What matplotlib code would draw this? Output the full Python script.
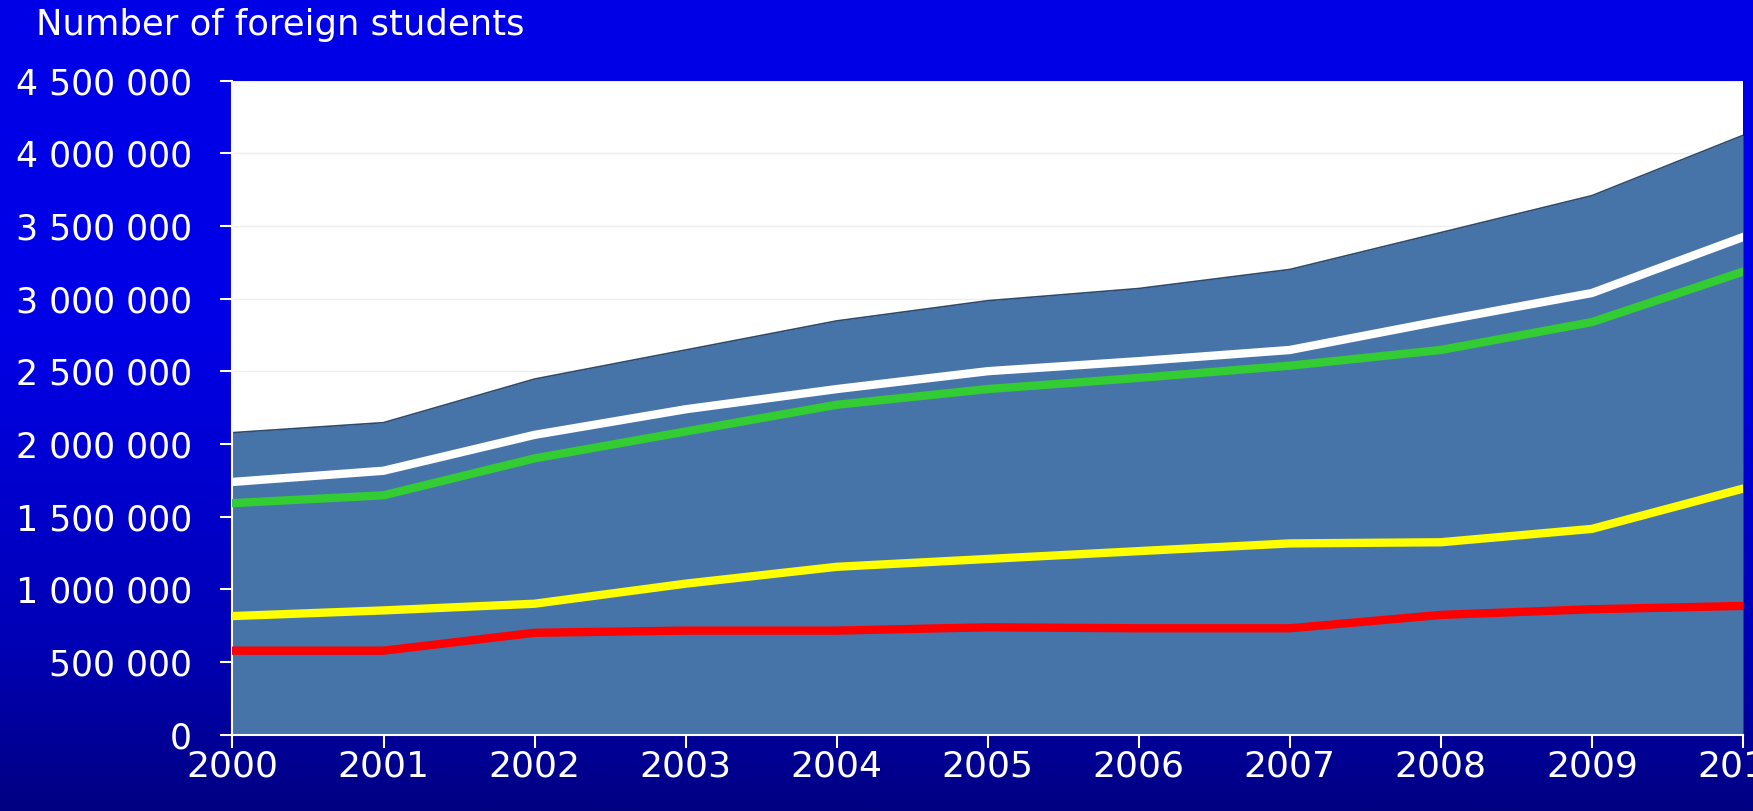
import numpy as np
import matplotlib.pyplot as plt

# Data (number of foreign students)
years = [2000, 2001, 2002, 2003, 2004, 2005, 2006, 2007, 2008, 2009, 2010]
total = [2077000, 2146000, 2446000, 2646000, 2846000, 2985000, 3069000, 3200000, 3454000, 3708000, 4123000]
white_series = [1738000, 1815000, 2062000, 2238000, 2377000, 2500000, 2569000, 2646000, 2846000, 3038000, 3423000]
green_series = [1592000, 1646000, 1900000, 2085000, 2269000, 2377000, 2454000, 2538000, 2646000, 2838000, 3185000]
yellow_series = [815000, 854000, 900000, 1038000, 1154000, 1208000, 1262000, 1315000, 1323000, 1415000, 1692000]
red_series = [577000, 577000, 700000, 715000, 715000, 738000, 731000, 731000, 823000, 862000, 885000]

y_ticks = [0, 500000, 1000000, 1500000, 2000000, 2500000, 3000000, 3500000, 4000000, 4500000]
y_labels = ['0', '500 000', '1 000 000', '1 500 000', '2 000 000', '2 500 000',
            '3 000 000', '3 500 000', '4 000 000', '4 500 000']

plt.rcParams['font.family'] = ['DejaVu Sans']

fig = plt.figure(figsize=(17.53, 8.11), dpi=100)

# blue gradient background
bg = fig.add_axes([0, 0, 1, 1], zorder=-10)
rows = np.linspace(0, 1, 400)
blue = np.interp(rows, [0, 0.4, 0.8, 1.0], [230, 232, 180, 130]) / 255
grad = np.zeros((400, 2, 3))
grad[:, :, 2] = blue[:, None]
bg.imshow(grad, aspect='auto', extent=[0, 1, 1, 0])
bg.set_axis_off()

ax = fig.add_axes([0.1326, 0.0943, 0.8617, 0.8064])
ax.set_facecolor('white')

for v in y_ticks[1:]:
    ax.axhline(v, color='#eeeeee', lw=1, zorder=0)

ax.fill_between(years, 0, total, color='#4674a8', zorder=1, lw=0)
ax.plot(years, total, color='#2e4a6b', lw=1.2, zorder=2)
ax.plot(years, white_series, color='white', lw=6, zorder=3)
ax.plot(years, green_series, color='#33cc33', lw=6, zorder=3)
ax.plot(years, yellow_series, color='#ffff00', lw=6, zorder=3)
ax.plot(years, red_series, color='#ff0000', lw=6, zorder=3)

ax.set_xlim(2000, 2010)
ax.set_ylim(0, 4500000)
ax.set_xticks(years)
ax.set_xticklabels([str(y) for y in years])
ax.set_yticks(y_ticks)
ax.set_yticklabels(y_labels)

for side in ['top', 'right']:
    ax.spines[side].set_visible(False)
for side in ['left', 'bottom']:
    ax.spines[side].set_color('white')
    ax.spines[side].set_linewidth(1.5)

ax.tick_params(axis='y', colors='white', labelsize=25, length=9, width=1.5, pad=20)
ax.tick_params(axis='x', colors='white', labelsize=26, length=9, width=1.5, pad=2)

fig.text(0.0205, 0.969, 'Number of foreign students', color='white', fontsize=25.5,
         va='center', ha='left')

fig.savefig('out.png', dpi=100)
